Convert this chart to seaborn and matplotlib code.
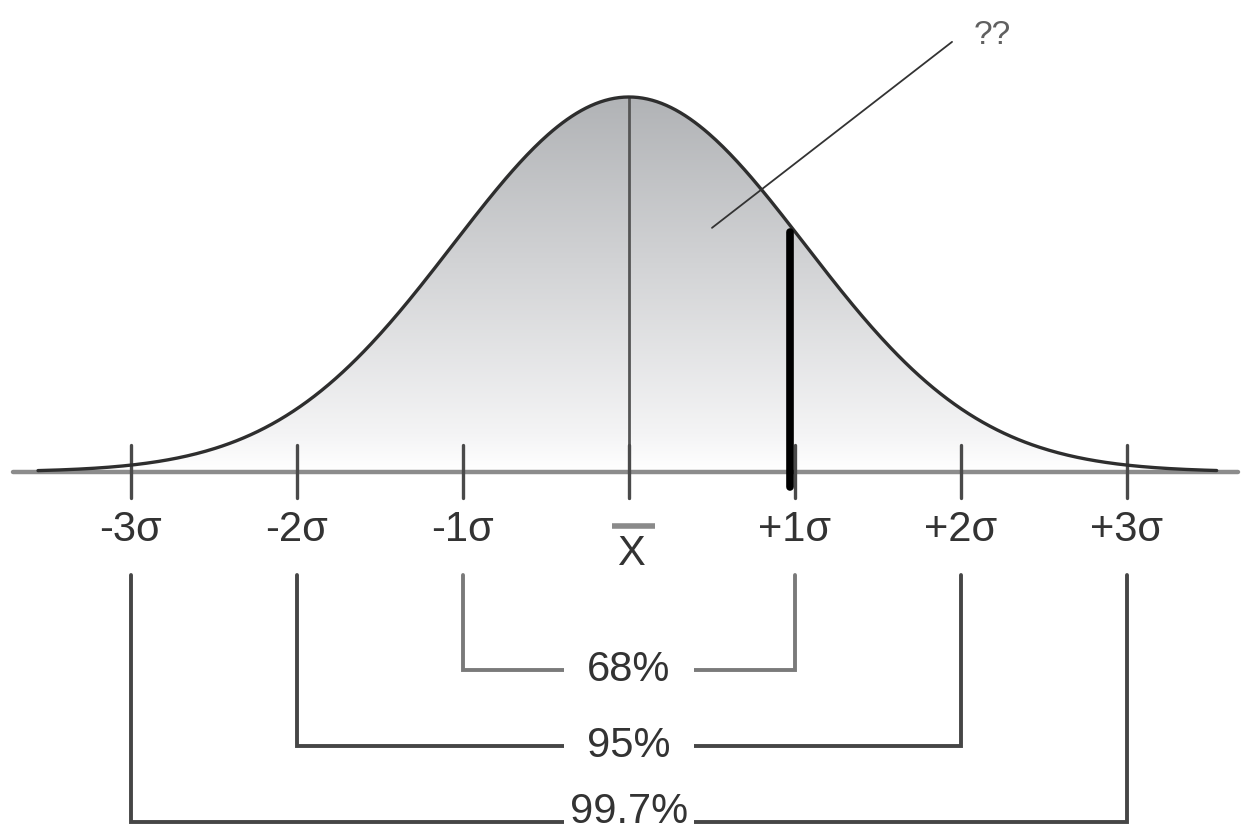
import numpy as np
import pandas as pd
import seaborn as sns
import matplotlib.pyplot as plt
from matplotlib.patches import Polygon
from matplotlib.colors import LinearSegmentedColormap

# tick marks along the axis (in sigma units) and their labels
sigma_ticks = [-3, -2, -1, 0, 1, 2, 3]
tick_labels = ['-3σ', '-2σ', '-1σ', '', '+1σ', '+2σ', '+3σ']
mean_label = 'X'

# coverage brackets under the axis
range_lo = [-1, -2, -3]
range_hi = [1, 2, 3]
range_labels = ['68%', '95%', '99.7%']

# the bell curve itself (drawn a little wider than the tick spacing, as in the picture)
curve_sd = 1.06
curve_x = np.linspace(-3.56, 3.54, 500)
curve = pd.DataFrame({'x': curve_x, 'y': np.exp(-curve_x ** 2 / (2 * curve_sd ** 2))})

sns.set_style('white')
plt.rcParams['font.family'] = ['Liberation Sans', 'DejaVu Sans']

fig = plt.figure(figsize=(12.51, 8.39), dpi=100)
ax = fig.add_axes([0, 0, 1, 1])
ax.set_xlim(-3.789, 3.747)
ax.set_ylim(-0.979, 1.2587)
ax.axis('off')

# gradient fill under the curve
grad = np.linspace(0, 1, 256).reshape(-1, 1)
cmap = LinearSegmentedColormap.from_list('bell', [(0, '#ffffff'), (0.1, '#f4f4f5'), (1, '#b1b3b6')])
im = ax.imshow(grad, extent=[curve_x[0], curve_x[-1], 0, 1], origin='lower',
               cmap=cmap, aspect='auto', zorder=1)
verts = np.vstack([np.column_stack([curve.x, curve.y]), [[curve_x[-1], 0], [curve_x[0], 0]]])
clip = Polygon(verts, closed=True, transform=ax.transData, fc='none', ec='none')
ax.add_patch(clip)
im.set_clip_path(clip)

# horizontal axis
ax.axhline(0, xmin=0.01, xmax=0.99, color='#8c8c8c', lw=3.2, zorder=2)

# curve
sns.lineplot(data=curve, x='x', y='y', ax=ax, color='#2e2e2e', lw=2.4, zorder=4,
             sort=False, estimator=None)

# mean line
ax.plot([0, 0], [1, -0.069], color='#555555', lw=2, zorder=3)

# ticks and labels
for s, lab in zip(sigma_ticks, tick_labels):
    ax.plot([s, s], [0.072, -0.069], color='#4a4a4a', lw=2.4, zorder=3)
    if lab:
        ax.text(s, -0.155, lab, ha='center', va='center', fontsize=30, color='#333333')
ax.text(0.01, -0.218, mean_label, ha='center', va='center', fontsize=30, color='#333333')
ax.plot([-0.105, 0.155], [-0.144, -0.144], color='#8a8a8a', lw=4, solid_capstyle='butt')

# heavy marker at +1 sigma, just under the curve
top_1sd = np.exp(-1 / (2 * curve_sd ** 2))
ax.plot([0.97, 0.97], [top_1sd, -0.04], color='black', lw=5.5, zorder=5)

# annotation pointer and text
ax.plot([0.50, 1.946], [0.651, 1.147], color='#333333', lw=1.3, zorder=5)
ax.text(2.187, 1.163, '??', ha='center', va='center', fontsize=24, color='#606060')

# brackets
levels = [-0.528, -0.731, -0.933]
text_shift = [0, 0, 0.026]
colors = ['#7a7a7a', '#464646', '#464646']
pads = [0.55, 0.55, 0.15]
for lo, hi, lab, lv, dy, c, p in zip(range_lo, range_hi, range_labels, levels, text_shift, colors, pads):
    ax.plot([lo, lo, hi, hi], [-0.275, lv, lv, -0.275], color=c, lw=2.8,
            solid_joinstyle='miter', zorder=3)
    ax.text(0, lv + dy, lab, ha='center', va='center', fontsize=30, color='#333333', zorder=6,
            bbox=dict(boxstyle='square,pad=%s' % p, fc='white', ec='none'))

fig.savefig('out.png', dpi=100)
